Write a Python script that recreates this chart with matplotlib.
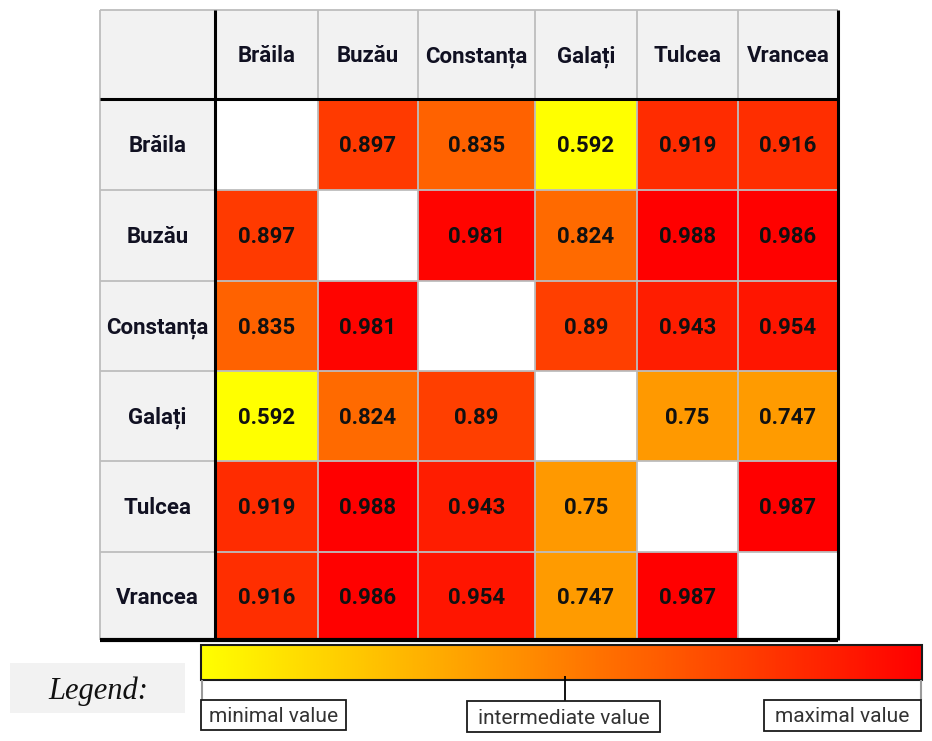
import numpy as np
import matplotlib
matplotlib.use("Agg")
import matplotlib.pyplot as plt
from matplotlib.colors import LinearSegmentedColormap
from matplotlib.patches import Rectangle

# ---- data ----
cities = ["Brăila", "Buzău", "Constanța", "Galați", "Tulcea", "Vrancea"]
row_braila = [np.nan, 0.897, 0.835, 0.592, 0.919, 0.916]
row_buzau = [0.897, np.nan, 0.981, 0.824, 0.988, 0.986]
row_constanta = [0.835, 0.981, np.nan, 0.89, 0.943, 0.954]
row_galati = [0.592, 0.824, 0.89, np.nan, 0.75, 0.747]
row_tulcea = [0.919, 0.988, 0.943, 0.75, np.nan, 0.987]
row_vrancea = [0.916, 0.986, 0.954, 0.747, 0.987, np.nan]
legend_labels = ["minimal value", "intermediate value", "maximal value"]

values = np.array([row_braila, row_buzau, row_constanta, row_galati, row_tulcea, row_vrancea])
vmin, vmax = np.nanmin(values), np.nanmax(values)

cmap = LinearSegmentedColormap.from_list("yr", ["#FFFF00", "#FF0000"])

# ---- layout (pixels) ----
W, H = 932, 741
col_edges = np.array([100, 215, 318, 418, 535, 637, 738, 838])
row_edges = np.array([10, 99, 190, 281, 371, 461, 552, 640])

fig = plt.figure(figsize=(W / 100, H / 100), dpi=100)
ax = fig.add_axes([0, 0, 1, 1])
ax.set_xlim(0, W)
ax.set_ylim(H, 0)
ax.axis("off")

cell_font = ["Roboto", "DejaVu Sans"]
header_bg = "#F2F2F2"
grid_c = "#BDBDBD"
fs = 16
base_off = 7.5  # half cap height in pixels

# header backgrounds
ax.add_patch(Rectangle((col_edges[0], row_edges[0]), col_edges[-1] - col_edges[0],
                       row_edges[1] - row_edges[0], facecolor=header_bg, edgecolor="none", zorder=1))
ax.add_patch(Rectangle((col_edges[0], row_edges[0]), col_edges[1] - col_edges[0],
                       row_edges[-1] - row_edges[0], facecolor=header_bg, edgecolor="none", zorder=1))

# data cells
masked = np.ma.masked_invalid(values)
ax.pcolormesh(col_edges[1:], row_edges[1:], masked, cmap=cmap, vmin=vmin, vmax=vmax,
              shading="flat", zorder=2)

# grid lines
ax.vlines(col_edges[:-1], row_edges[0], row_edges[-1], color=grid_c, lw=1.3, zorder=3)
ax.hlines(row_edges[:-1], col_edges[0], col_edges[-1], color=grid_c, lw=1.3, zorder=3)
# heavy lines
ax.vlines([col_edges[1]], row_edges[0], row_edges[-1], color="black", lw=2.2, zorder=4)
ax.vlines([col_edges[-1]], row_edges[0], row_edges[-1], color="black", lw=2.2, zorder=4)
ax.hlines([row_edges[1]], col_edges[0], col_edges[-1], color="black", lw=2.2, zorder=4)
ax.hlines([row_edges[-1]], col_edges[0], col_edges[-1], color="black", lw=3, zorder=4)

xc = (col_edges[:-1] + col_edges[1:]) / 2
yc = (row_edges[:-1] + row_edges[1:]) / 2

for j, name in enumerate(cities):
    ax.text(xc[j + 1], yc[0] + base_off, name, ha="center", va="baseline", fontsize=fs,
            fontweight="bold", family=cell_font, color="#111122", zorder=5)
    ax.text(xc[0], yc[j + 1] + base_off, name, ha="center", va="baseline", fontsize=fs,
            fontweight="bold", family=cell_font, color="#111122", zorder=5)

for i in range(len(cities)):
    for j in range(len(cities)):
        v = values[i, j]
        if np.isnan(v):
            continue
        ax.text(xc[j + 1], yc[i + 1] + base_off, f"{v:g}", ha="center", va="baseline",
                fontsize=fs, fontweight="bold", family=cell_font, color="#111111", zorder=5)

# ---- legend ----
ax.add_patch(Rectangle((10, 663), 175, 50, facecolor=header_bg, edgecolor="none"))
ax.text(98, 699, "Legend:", ha="center", va="baseline", fontsize=22, style="italic",
        family=["Liberation Serif", "DejaVu Serif"], color="#111111")

bx0, bx1, by0, by1 = 201, 922, 645, 680
grad = np.linspace(vmin, vmax, 512).reshape(1, -1)
ax.imshow(grad, cmap=cmap, vmin=vmin, vmax=vmax, extent=[bx0, bx1, by1, by0],
          aspect="auto", zorder=2)
ax.add_patch(Rectangle((bx0, by0), bx1 - bx0, by1 - by0, facecolor="none",
                       edgecolor="#1a1a1a", lw=1.5, zorder=3))

# connectors
ax.vlines([bx0 + 1, bx1 - 1], by1, 700, color="#999999", lw=1.5, zorder=3)
ax.vlines([565], 676, 701, color="black", lw=1.3, zorder=3)

label_font = ["Roboto", "DejaVu Sans"]
boxes = [(201, 700, 145, 30), (467, 701, 193, 31), (764, 700, 157, 31)]
for (x0, y0, w, h), lab in zip(boxes, legend_labels):
    ax.add_patch(Rectangle((x0, y0), w, h, facecolor="white", edgecolor="#1a1a1a",
                           lw=1.3, zorder=3))
    ax.text(x0 + w / 2, y0 + h / 2 + 7, lab, ha="center", va="baseline", fontsize=15,
            family=label_font, color="#333333", zorder=4)

fig.savefig("out.png", dpi=100)
